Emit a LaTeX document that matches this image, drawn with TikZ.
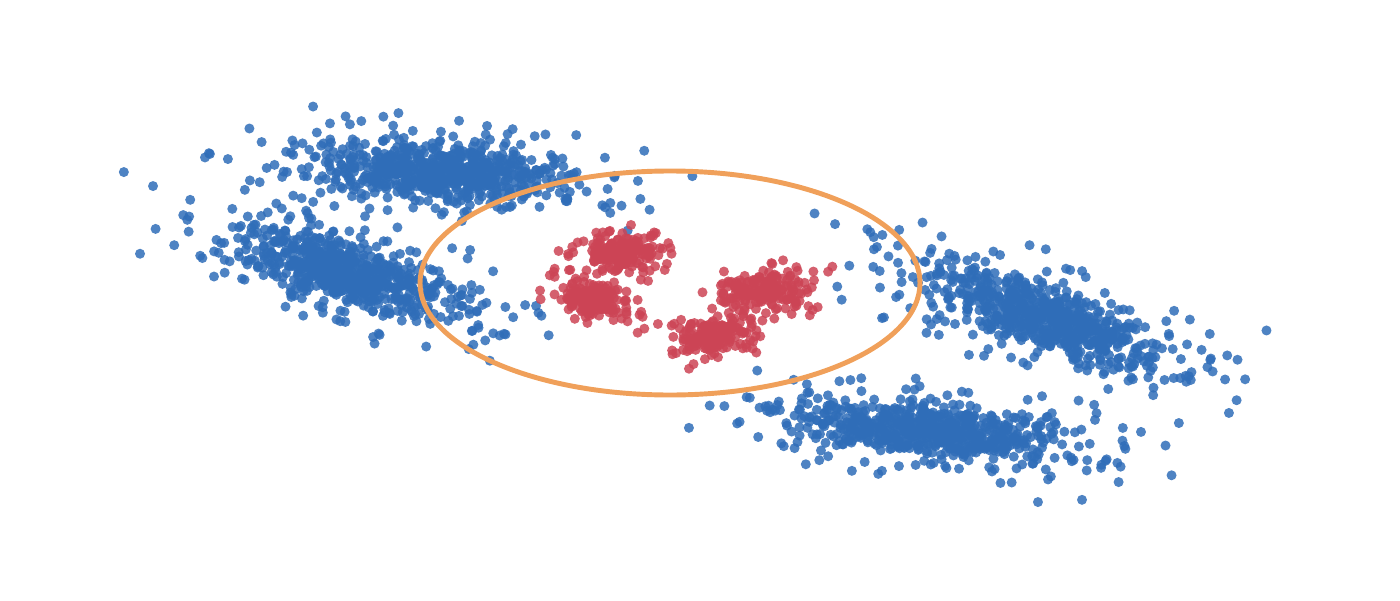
\documentclass[tikz,border=0pt]{standalone}
\usetikzlibrary{positioning}
\definecolor{dotblue}{HTML}{2F6DB8}
\definecolor{dotred}{HTML}{CC4455}
\definecolor{ringorange}{HTML}{F0A05A}

% cluster: centre x, centre y, spread along, spread across, slope, count, style
\newcommand{\cloud}[7]{
  \foreach \i in {1,...,#6}{
    \pgfmathsetmacro{\sc}{ifthenelse(rnd<0.6,0.7,1.25)}
    \pgfmathsetmacro{\du}{\sc*#3*(rand+rand+rand)}
    \pgfmathsetmacro{\dv}{\sc*#4*(rand+rand+rand)}
    \fill[#7] ({#1+\du},{#2+\dv+#5*\du}) circle[radius=0.05cm];
  }
}

\begin{document}
\begin{tikzpicture}[x=0.01cm, y=-0.01cm,
  blue dot/.style={dotblue, fill opacity=0.85},
  red dot/.style={dotred, fill opacity=0.85}]
\useasboundingbox (0,0) rectangle (1400,600);
\pgfmathsetseed{7}

% blue clusters
\cloud{440}{172}{74}{18}{0.05}{750}{blue dot}
\cloud{345}{272}{66}{20}{0.25}{750}{blue dot}
\cloud{1045}{318}{66}{20}{0.33}{750}{blue dot}
\cloud{935}{432}{80}{17}{0.10}{750}{blue dot}

% red clusters
\cloud{622}{253}{22}{10}{0.0}{200}{red dot}
\cloud{592}{300}{20}{10}{0.15}{200}{red dot}
\cloud{762}{291}{24}{10}{-0.1}{200}{red dot}
\cloud{715}{335}{20}{10}{-0.15}{200}{red dot}

% boundary
\draw[ringorange, line width=1.4pt] (670,283) ellipse[x radius=250, y radius=112];
\end{tikzpicture}
\end{document}
